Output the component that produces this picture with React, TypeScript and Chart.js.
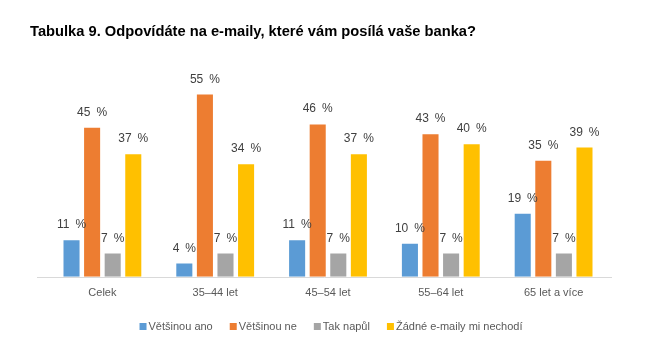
import React, { useEffect, useRef } from "react";
import { Chart, registerables } from "chart.js";

Chart.register(...registerables);

const TITLE = "Tabulka 9. Odpovídáte na e-maily, které vám posílá vaše banka?";
const categories = ["Celek", "35–44 let", "45–54 let", "55–64 let", "65 let a více"];
const seriesNames = ["Většinou ano", "Většinou ne", "Tak napůl", "Žádné e-maily mi nechodí"];
const mostlyYes = [11, 4, 11, 10, 19];
const mostlyNo = [45, 55, 46, 43, 35];
const halfHalf = [7, 7, 7, 7, 7];
const noEmails = [37, 34, 37, 40, 39];
const colors = ["#5B9BD5", "#ED7D31", "#A5A5A5", "#FFC000"];

const FONT = "'Liberation Sans', Arial, sans-serif";

const decorPlugin = {
  id: "decor",
  beforeDatasetsDraw(chart: any) {
    const ctx = chart.ctx;
    const a = chart.chartArea;
    ctx.save();
    ctx.strokeStyle = "#d9d9d9";
    ctx.lineWidth = 1;
    ctx.beginPath();
    ctx.moveTo(a.left - 9, Math.round(a.bottom) + 0.5);
    ctx.lineTo(a.right + 2, Math.round(a.bottom) + 0.5);
    ctx.stroke();
    ctx.restore();
  },
  afterDatasetsDraw(chart: any) {
    const ctx = chart.ctx;
    ctx.save();
    // value labels
    ctx.font = `12px ${FONT}`;
    ctx.fillStyle = "#404040";
    ctx.textAlign = "center";
    ctx.textBaseline = "alphabetic";
    chart.data.datasets.forEach((ds: any, di: number) => {
      const meta = chart.getDatasetMeta(di);
      meta.data.forEach((el: any, i: number) => {
        ctx.fillText(`${ds.data[i]}\u2002%`, el.x, el.y - 12);
      });
    });
    // title
    ctx.font = `bold 14.7px ${FONT}`;
    ctx.fillStyle = "#000000";
    ctx.textAlign = "left";
    ctx.fillText(TITLE, 30, 36);
    // legend
    ctx.font = `11px ${FONT}`;
    const box = 7;
    const gapBoxText = 2;
    const gapItems = 17;
    const widths = seriesNames.map((n) => ctx.measureText(n).width);
    const total = widths.reduce((a, w) => a + box + gapBoxText + w, 0) + gapItems * (seriesNames.length - 1);
    let x = 331 - total / 2;
    const yc = 327;
    seriesNames.forEach((n, i) => {
      ctx.fillStyle = colors[i];
      ctx.fillRect(x, yc - box / 2 - 0.5, box, box);
      x += box + gapBoxText;
      ctx.fillStyle = "#595959";
      ctx.textBaseline = "middle";
      ctx.fillText(n, x, yc);
      x += widths[i] + gapItems;
    });
    ctx.restore();
  },
};

export default function App() {
  const ref = useRef<HTMLCanvasElement | null>(null);
  useEffect(() => {
    if (!ref.current) return;
    const data = [mostlyYes, mostlyNo, halfHalf, noEmails];
    const chart = new Chart(ref.current, {
      type: "bar",
      data: {
        labels: categories,
        datasets: data.map((d, i) => ({
          label: seriesNames[i],
          data: d,
          backgroundColor: colors[i],
          borderWidth: 0,
          barPercentage: 0.78,
          categoryPercentage: 0.73,
        })),
      },
      options: {
        responsive: false,
        animation: false,
        layout: { padding: { left: 46, right: 36, top: 78, bottom: 42 } },
        plugins: {
          legend: { display: false },
          title: { display: false },
          tooltip: { enabled: false },
        },
        scales: {
          x: {
            grid: { display: false, drawTicks: false },
            border: { display: false },
            ticks: { color: "#595959", font: { size: 11, family: FONT }, padding: 10 },
          },
          y: { display: false, min: 0, max: 60 },
        },
      },
      plugins: [decorPlugin],
    });
    return () => chart.destroy();
  }, []);
  return (
    <div style={{ position: "absolute", left: 0, top: 0, width: 646, height: 352, background: "#fff" }}>
      <canvas ref={ref} width={646} height={352} />
    </div>
  );
}
